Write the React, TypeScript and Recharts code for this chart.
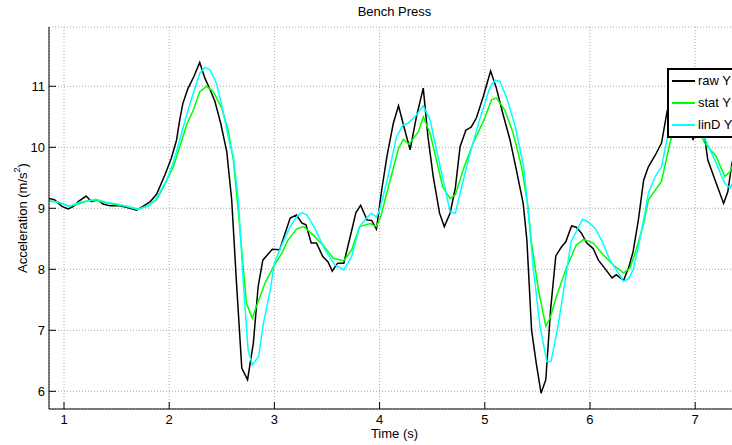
import React from "react";
import { LineChart, Line, XAxis, YAxis, CartesianGrid, Legend } from "recharts";

// raw Y samples (time in s, acceleration in m/s^2)
const rawT = [
  0.855, 0.91, 0.98, 1.04, 1.09, 1.135, 1.21, 1.26, 1.32, 1.37, 1.44, 1.53, 1.61, 1.69, 1.75, 1.82, 1.88,
  1.96, 2.02, 2.07, 2.1, 2.13, 2.18, 2.235, 2.29, 2.34, 2.39, 2.435, 2.49, 2.547, 2.594, 2.64, 2.69, 2.745,
  2.8, 2.845, 2.89, 2.98, 3.05, 3.15, 3.21, 3.26, 3.3, 3.35, 3.4, 3.46, 3.51, 3.55, 3.6, 3.66, 3.72, 3.775,
  3.82, 3.88, 3.925, 3.97, 4.02, 4.07, 4.13, 4.18, 4.24, 4.29, 4.35, 4.415, 4.46, 4.51, 4.57, 4.615, 4.67,
  4.72, 4.765, 4.82, 4.87, 4.92, 4.985, 5.055, 5.11, 5.175, 5.24, 5.3, 5.365, 5.4, 5.445, 5.49, 5.535, 5.58,
  5.625, 5.675, 5.73, 5.77, 5.825, 5.87, 5.92, 5.97, 6.03, 6.08, 6.13, 6.21, 6.25, 6.32, 6.37, 6.41, 6.46,
  6.51, 6.555, 6.62, 6.68, 6.73, 6.78, 6.83, 6.88, 6.93, 6.98, 7.03, 7.09, 7.12, 7.2, 7.27, 7.31, 7.35, 7.42,
];
const rawY = [
  9.16, 9.14, 9.03, 8.99, 9.03, 9.11, 9.2, 9.11, 9.14, 9.07, 9.04, 9.04, 9.01, 8.97, 9.03, 9.11, 9.23,
  9.55, 9.82, 10.12, 10.45, 10.72, 10.97, 11.16, 11.39, 11.13, 10.94, 10.75, 10.39, 9.93, 9.14, 7.77, 6.38, 6.19,
  6.79, 7.71, 8.15, 8.33, 8.32, 8.84, 8.89, 8.76, 8.73, 8.43, 8.43, 8.21, 8.12, 7.97, 8.1, 8.1, 8.53, 8.93,
  9.05, 8.81, 8.8, 8.66, 9.3, 9.85, 10.39, 10.68, 10.28, 9.96, 10.5, 10.97, 10.17, 9.52, 8.92, 8.7, 8.92,
  9.33, 10.01, 10.28, 10.33, 10.48, 10.83, 11.25, 10.97, 10.53, 10.12, 9.63, 9.08, 8.48, 7.0, 6.45, 5.97, 6.19,
  7.33, 8.22, 8.37, 8.45, 8.71, 8.69, 8.59, 8.43, 8.34, 8.15, 8.04, 7.86, 7.91, 7.82, 8.04, 8.29, 8.81,
  9.46, 9.68, 9.87, 10.07, 10.56, 10.95, 11.0, 10.8, 10.5, 10.12, 10.45, 10.17, 9.79, 9.41, 9.08, 9.27, 9.74, 10.2,
];

// stat Y
const statT = [
  0.855, 0.95, 1.05, 1.15, 1.22, 1.3, 1.4, 1.5, 1.6, 1.7, 1.8, 1.88, 1.945, 2.04, 2.1, 2.17, 2.23, 2.29,
  2.356, 2.42, 2.5, 2.56, 2.61, 2.66, 2.7, 2.735, 2.79, 2.845, 2.91, 2.99, 3.07, 3.13, 3.21, 3.28, 3.37,
  3.46, 3.56, 3.66, 3.735, 3.81, 3.91, 3.97, 4.01, 4.1, 4.18, 4.225, 4.28, 4.37, 4.415, 4.48, 4.54, 4.6,
  4.67, 4.72, 4.8, 4.89, 4.985, 5.065, 5.11, 5.19, 5.27, 5.35, 5.41, 5.445, 5.51, 5.58, 5.62, 5.68, 5.78,
  5.87, 5.94, 6.03, 6.13, 6.22, 6.32, 6.38, 6.44, 6.51, 6.555, 6.68, 6.76, 6.82, 6.88, 6.95, 7.02, 7.09,
  7.2, 7.28, 7.33, 7.42,
];
const statY = [
  9.12, 9.1, 9.03, 9.08, 9.12, 9.13, 9.09, 9.06, 9.03, 8.99, 9.04, 9.14, 9.35, 9.68, 10.01, 10.39, 10.61, 10.91,
  11.0, 10.91, 10.64, 10.28, 9.79, 8.9, 8.1, 7.44, 7.2, 7.47, 7.77, 8.04, 8.26, 8.48, 8.66, 8.7, 8.56,
  8.4, 8.18, 8.14, 8.32, 8.7, 8.75, 8.7, 8.86, 9.46, 9.98, 10.13, 10.05, 10.26, 10.5, 10.23, 9.79, 9.35,
  9.16, 9.22, 9.66, 10.07, 10.42, 10.78, 10.81, 10.61, 10.23, 9.68, 9.03, 8.43, 7.66, 7.07, 7.2, 7.55, 8.04,
  8.4, 8.49, 8.43, 8.23, 8.07, 7.94, 8.02, 8.32, 8.75, 9.14, 9.44, 10.07, 10.45, 10.6, 10.55, 10.35, 10.07,
  9.85, 9.52, 9.6, 9.95,
];

// linD Y
const linT = [
  0.855, 0.95, 1.05, 1.15, 1.22, 1.3, 1.4, 1.5, 1.6, 1.7, 1.8, 1.87, 1.976, 2.04, 2.1, 2.17, 2.23, 2.29,
  2.34, 2.39, 2.45, 2.51, 2.57, 2.61, 2.657, 2.705, 2.75, 2.79, 2.85, 2.89, 2.96, 3.0, 3.07, 3.15, 3.21,
  3.26, 3.31, 3.385, 3.48, 3.575, 3.66, 3.735, 3.81, 3.875, 3.92, 3.97, 4.0, 4.08, 4.16, 4.225, 4.27, 4.35,
  4.415, 4.48, 4.54, 4.62, 4.67, 4.72, 4.78, 4.86, 4.95, 5.05, 5.097, 5.145, 5.21, 5.29, 5.37, 5.42, 5.46,
  5.525, 5.59, 5.63, 5.7, 5.76, 5.82, 5.93, 5.98, 6.05, 6.11, 6.19, 6.25, 6.32, 6.37, 6.41, 6.46, 6.51,
  6.555, 6.62, 6.68, 6.745, 6.8, 6.86, 6.92, 6.99, 7.05, 7.09, 7.2, 7.28, 7.33, 7.42,
];
const linY = [
  9.12, 9.1, 9.03, 9.1, 9.12, 9.15, 9.1, 9.07, 9.03, 8.98, 9.04, 9.14, 9.46, 9.76, 10.12, 10.56, 10.89, 11.21,
  11.31, 11.27, 11.05, 10.61, 10.1, 9.85, 9.14, 7.77, 6.68, 6.43, 6.57, 7.06, 7.66, 8.1, 8.4, 8.7, 8.86,
  8.93, 8.89, 8.67, 8.32, 8.07, 7.99, 8.21, 8.7, 8.84, 8.92, 8.86, 8.97, 9.52, 10.17, 10.37, 10.39, 10.53,
  10.68, 10.45, 9.96, 9.35, 8.94, 8.92, 9.35, 9.9, 10.45, 10.99, 11.1, 11.08, 10.8, 10.34, 9.68, 8.81, 8.04,
  7.06, 6.49, 6.49, 7.11, 7.77, 8.45, 8.82, 8.78, 8.67, 8.48, 8.15, 7.99, 7.8, 7.85, 7.99, 8.37, 8.81,
  9.25, 9.52, 9.68, 10.23, 10.7, 10.95, 10.85, 10.6, 10.35, 10.15, 9.74, 9.41, 9.33, 9.6,
];

const seriesNames = ["raw Y", "stat Y", "linD Y"];
const xTicks = [1, 2, 3, 4, 5, 6, 7];
const yTicks = [6, 7, 8, 9, 10, 11];

const toPoints = (ts: number[], vs: number[]) => ts.map((t, i) => ({ t, v: vs[i] }));
const rawData = toPoints(rawT, rawY);
const statData = toPoints(statT, statY);
const linData = toPoints(linT, linY);

const FONT = "'Liberation Sans', Arial, Helvetica, sans-serif";

// MATLAB style: ticks point into the plot area
const XTick = ({ x, y, payload }: any) => (
  <g>
    <line x1={x} y1={y} x2={x} y2={y - 7} stroke="#000" />
    <text x={x} y={y + 14.5} textAnchor="middle" fontSize={13} fontFamily={FONT} fill="#000">
      {payload.value}
    </text>
  </g>
);

const YTick = ({ x, y, payload }: any) => (
  <g>
    <line x1={x} y1={y} x2={x + 7} y2={y} stroke="#000" />
    <text x={x - 4} y={y + 4.6} textAnchor="end" fontSize={13} fontFamily={FONT} fill="#000">
      {payload.value}
    </text>
  </g>
);

const YLabel = ({ viewBox }: any) => {
  const cx = viewBox.x + 22;
  const cy = viewBox.y + viewBox.height / 2;
  return (
    <text
      transform={`translate(${cx},${cy}) rotate(-90)`}
      textAnchor="middle"
      dominantBaseline="central"
      fontSize={13}
      fontFamily={FONT}
      fill="#000"
    >
      Acceleration (m/s
      <tspan dy={-5} fontSize={9}>2</tspan>
      <tspan dy={5}>)</tspan>
    </text>
  );
};

const LegendBox = ({ payload }: any) => {
  const items = [...(payload || [])].sort(
    (a: any, b: any) => seriesNames.indexOf(a.value) - seriesNames.indexOf(b.value)
  );
  return (
    <div
      style={{
        border: "2px solid #000",
        background: "#fff",
        padding: "0 3px",
        width: 80,
        boxSizing: "border-box",
        fontFamily: FONT,
      }}
    >
      {items.map((p: any) => (
        <div key={p.value} style={{ display: "flex", alignItems: "center", height: 22 }}>
          <span
            style={{ display: "inline-block", width: 23, height: 0, borderTop: `2px solid ${p.color}`, marginRight: 3 }}
          />
          <span style={{ fontSize: 13, color: "#000", lineHeight: "22px", whiteSpace: "nowrap" }}>{p.value}</span>
        </div>
      ))}
    </div>
  );
};

export default function App() {
  return (
    <div
      style={{
        position: "absolute",
        left: 0,
        top: 0,
        width: 732,
        height: 445,
        overflow: "hidden",
        background: "#fff",
        fontFamily: FONT,
      }}
    >
      <LineChart width={745} height={445} margin={{ top: 27, right: 5, bottom: 0, left: 0 }}>
        <CartesianGrid stroke="#a8a8a8" strokeDasharray="1 2" />
        <XAxis
          dataKey="t"
          type="number"
          domain={[0.8574, 7.426]}
          allowDataOverflow
          ticks={xTicks}
          height={36}
          stroke="#000"
          tickLine={false}
          tickSize={0}
          tickMargin={0}
          tick={<XTick />}
          label={{ value: "Time (s)", position: "insideBottom", offset: 7.5, fontSize: 13, fill: "#000", fontFamily: FONT }}
        />
        <YAxis
          dataKey="v"
          type="number"
          domain={[5.71, 11.972]}
          allowDataOverflow
          ticks={yTicks}
          width={49}
          stroke="#000"
          tickLine={false}
          tickSize={0}
          tickMargin={0}
          tick={<YTick />}
          label={<YLabel />}
        />
        <Line data={rawData} dataKey="v" name={seriesNames[0]} stroke="#000000" strokeWidth={1.5} dot={false} isAnimationActive={false} />
        <Line data={statData} dataKey="v" name={seriesNames[1]} stroke="#00ff00" strokeWidth={1.5} dot={false} isAnimationActive={false} />
        <Line data={linData} dataKey="v" name={seriesNames[2]} stroke="#00ffff" strokeWidth={1.5} dot={false} isAnimationActive={false} />
        <Legend
          layout="vertical"
          align="center"
          verticalAlign="middle"
          content={<LegendBox />}
          wrapperStyle={{ left: 667, top: 68, width: 80 }}
        />
      </LineChart>
      <div
        style={{
          position: "absolute",
          left: 49,
          width: 691,
          top: 4,
          textAlign: "center",
          fontSize: 13,
          lineHeight: "16px",
          color: "#000",
        }}
      >
        Bench Press
      </div>
    </div>
  );
}
